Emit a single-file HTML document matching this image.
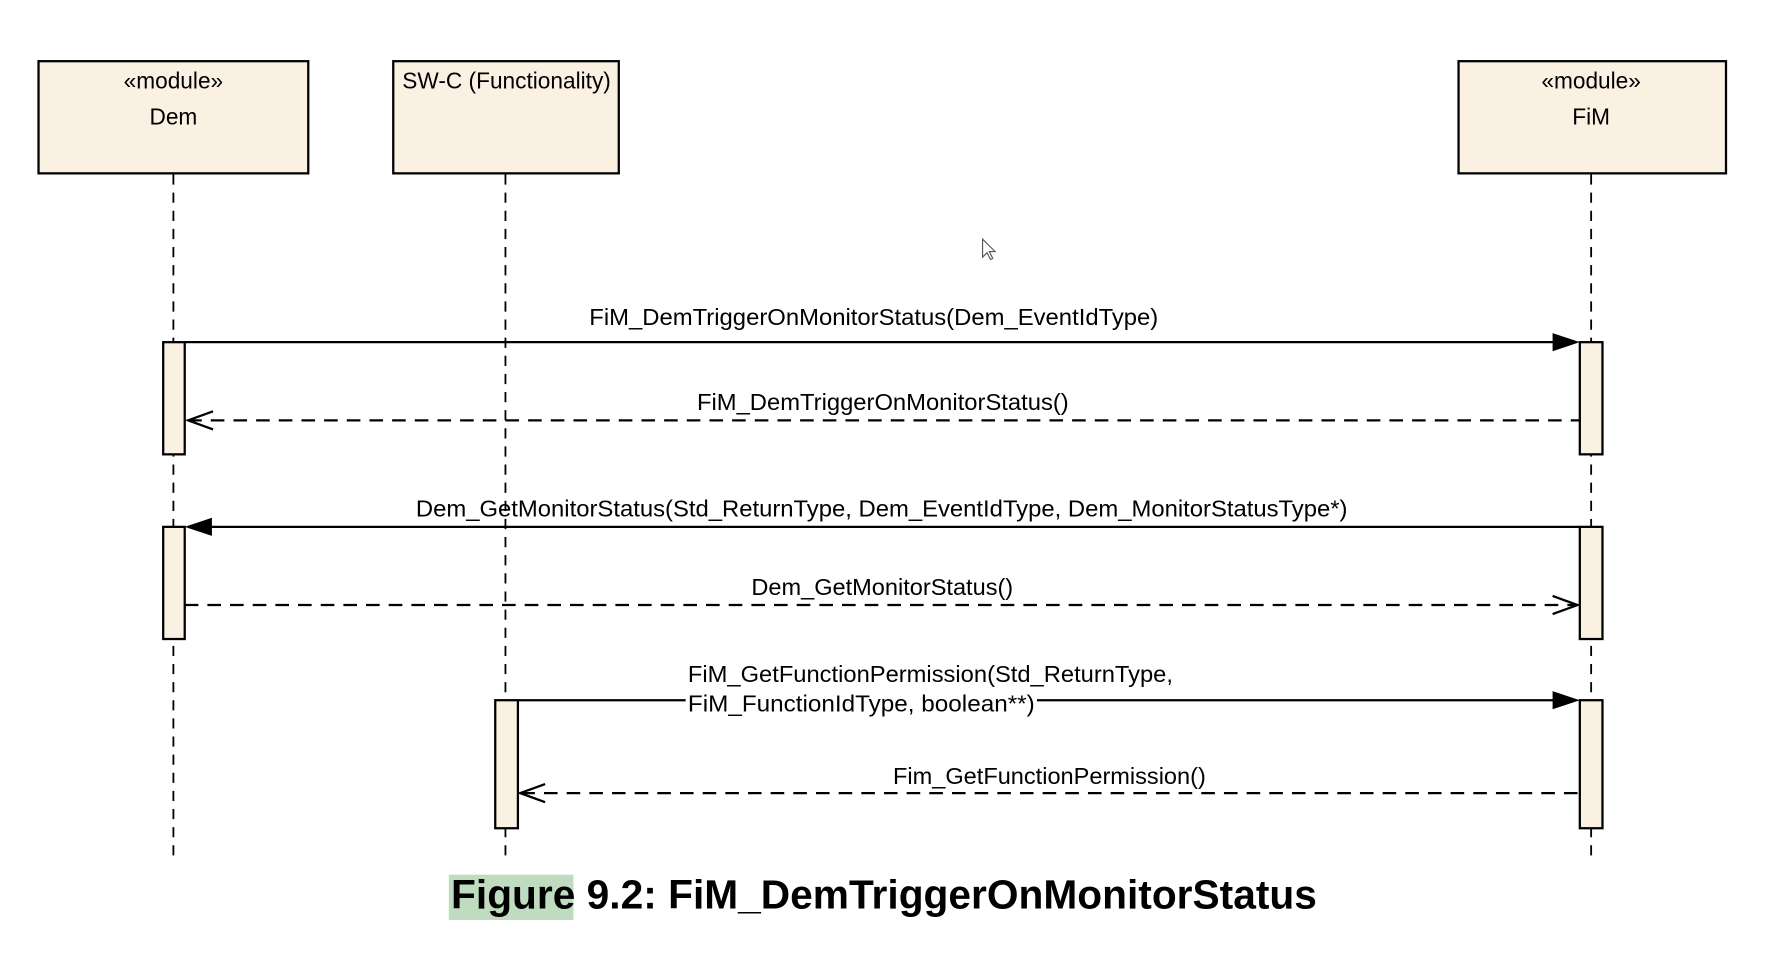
<!DOCTYPE html>
<html><head><meta charset="utf-8"><style>
html,body{margin:0;padding:0;background:#fff;}
svg{display:block;}
text{font-family:"Liberation Sans",Arial,sans-serif;fill:#000;}
</style></head><body>
<svg width="1777" height="971" viewBox="0 0 1568 857" preserveAspectRatio="none" xmlns="http://www.w3.org/2000/svg">
<g stroke="#000" stroke-width="1.6" stroke-dasharray="9,7" fill="none">
<line x1="153" y1="154" x2="153" y2="756"/>
<line x1="446" y1="154" x2="446" y2="756"/>
<line x1="1404" y1="154" x2="1404" y2="756"/>
</g>
<g fill="#fbf1e3" stroke="#000" stroke-width="2">
<rect x="34" y="54" width="238" height="99"/>
<rect x="347" y="54" width="199" height="99"/>
<rect x="1287" y="54" width="236" height="99"/>
<rect x="144" y="302" width="19" height="99"/>
<rect x="144" y="465" width="19" height="99"/>
<rect x="1394" y="302" width="20" height="99"/>
<rect x="1394" y="465" width="20" height="99"/>
<rect x="1394" y="618" width="20" height="113"/>
<rect x="437" y="618" width="20" height="113"/>
</g>
<g font-size="20" text-anchor="middle">
<text x="153" y="78">«module»</text>
<text x="153" y="110">Dem</text>
<text x="447" y="78">SW-C (Functionality)</text>
<text x="1404" y="78">«module»</text>
<text x="1404" y="110">FiM</text>
</g>
<g stroke="#000" stroke-width="2" fill="none">
<line x1="163" y1="302" x2="1372" y2="302"/>
<line x1="186" y1="465" x2="1394" y2="465"/>
<line x1="457" y1="618" x2="1372" y2="618"/>
</g>
<g stroke="#000" stroke-width="2" fill="none" stroke-dasharray="12,8">
<line x1="166" y1="371" x2="1394" y2="371"/>
<line x1="163" y1="534" x2="1390" y2="534"/>
<line x1="460" y1="700" x2="1394" y2="700"/>
</g>
<g stroke="#000" stroke-width="2" fill="none">
<polyline points="188,363 166,371 188,379"/>
<polyline points="1370,526 1392,534 1370,542"/>
<polyline points="481,692 459,700 481,708"/>
</g>
<g fill="#000">
<polygon points="1370,294 1394,302 1370,310"/>
<polygon points="187,457 163,465 187,473"/>
<polygon points="1370,610 1394,618 1370,626"/>
</g>
<rect x="605" y="606" width="310" height="26" fill="#fff"/>
<g font-size="20">
<text x="520" y="287" textLength="502" lengthAdjust="spacingAndGlyphs">FiM_DemTriggerOnMonitorStatus(Dem_EventIdType)</text>
<text x="615" y="362" textLength="328" lengthAdjust="spacingAndGlyphs">FiM_DemTriggerOnMonitorStatus()</text>
<text x="367" y="456" textLength="822" lengthAdjust="spacingAndGlyphs">Dem_GetMonitorStatus(Std_ReturnType, Dem_EventIdType, Dem_MonitorStatusType*)</text>
<text x="663" y="525" textLength="231" lengthAdjust="spacingAndGlyphs">Dem_GetMonitorStatus()</text>
<text x="607" y="602" textLength="428" lengthAdjust="spacingAndGlyphs">FiM_GetFunctionPermission(Std_ReturnType,</text>
<text x="607" y="628" textLength="306" lengthAdjust="spacingAndGlyphs">FiM_FunctionIdType, boolean**)</text>
<text x="788" y="692" textLength="276" lengthAdjust="spacingAndGlyphs">Fim_GetFunctionPermission()</text>
</g>
<rect x="396" y="772" width="110" height="40" fill="#c0dcc0"/>
<text x="398" y="802" font-size="36" font-weight="bold" textLength="764" lengthAdjust="spacingAndGlyphs">Figure 9.2: FiM_DemTriggerOnMonitorStatus</text>
<polygon points="867,211 867,227 871,223 874,229 876,228 873,222 878,222" fill="#fff" stroke="#555" stroke-width="1"/>
</svg>
</body></html>
